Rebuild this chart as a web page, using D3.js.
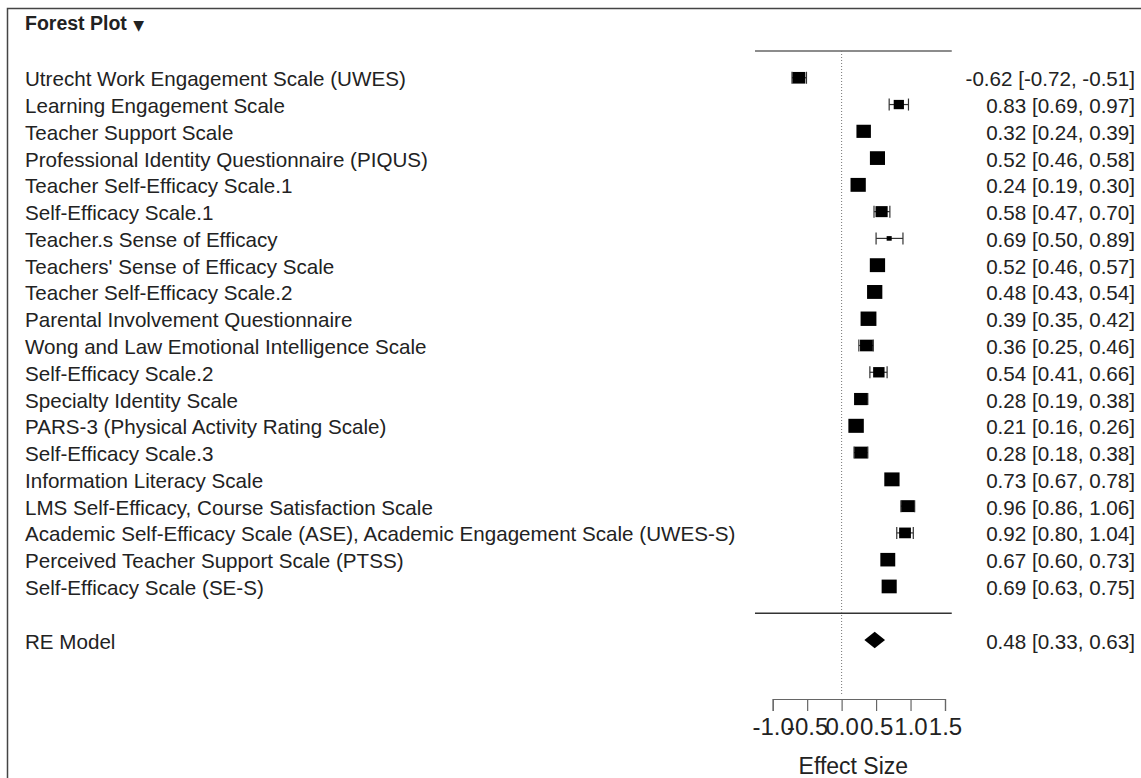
<!DOCTYPE html>
<html>
<head>
<meta charset="utf-8">
<script src="https://cdn.jsdelivr.net/npm/d3@7"></script>
<style>
  html, body { margin: 0; padding: 0; background: #fff; }
  svg { display: block; }
  text { font-family: "Liberation Sans", Arial, sans-serif; fill: #222; }
</style>
</head>
<body>
<svg id="chart" width="1141" height="778"></svg>
<script>
// ---------------- data ----------------
const studies = [
  "Utrecht Work Engagement Scale (UWES)",
  "Learning Engagement Scale",
  "Teacher Support Scale",
  "Professional Identity Questionnaire (PIQUS)",
  "Teacher Self-Efficacy Scale.1",
  "Self-Efficacy Scale.1",
  "Teacher.s Sense of Efficacy",
  "Teachers' Sense of Efficacy Scale",
  "Teacher Self-Efficacy Scale.2",
  "Parental Involvement Questionnaire",
  "Wong and Law Emotional Intelligence Scale",
  "Self-Efficacy Scale.2",
  "Specialty Identity Scale",
  "PARS-3 (Physical Activity Rating Scale)",
  "Self-Efficacy Scale.3",
  "Information Literacy Scale",
  "LMS Self-Efficacy, Course Satisfaction Scale",
  "Academic Self-Efficacy Scale (ASE), Academic Engagement Scale (UWES-S)",
  "Perceived Teacher Support Scale (PTSS)",
  "Self-Efficacy Scale (SE-S)"
];
const estimates = [-0.62, 0.83, 0.32, 0.52, 0.24, 0.58, 0.69, 0.52, 0.48, 0.39, 0.36, 0.54, 0.28, 0.21, 0.28, 0.73, 0.96, 0.92, 0.67, 0.69];
const lowers    = [-0.72, 0.69, 0.24, 0.46, 0.19, 0.47, 0.50, 0.46, 0.43, 0.35, 0.25, 0.41, 0.19, 0.16, 0.18, 0.67, 0.86, 0.80, 0.60, 0.63];
const uppers    = [-0.51, 0.97, 0.39, 0.58, 0.30, 0.70, 0.89, 0.57, 0.54, 0.42, 0.46, 0.66, 0.38, 0.26, 0.38, 0.78, 1.06, 1.04, 0.73, 0.75];
const tau2 = 0.114;                       // between-study variance of the RE model
const modelLabel = "RE Model";
const modelEstimate = 0.48, modelLower = 0.33, modelUpper = 0.63;
const xTicks = [-1.0, -0.5, 0.0, 0.5, 1.0, 1.5];
const titleText = "Forest Plot";
const xAxisTitle = "Effect Size";

// ---------------- layout ----------------
const svg = d3.select("#chart");
const f2 = v => d3.format(".2f")(v).replace("\u2212", "-");
const f1 = v => d3.format(".1f")(v).replace("\u2212", "-");
const ciText = (e, l, u) => `${f2(e)} [${f2(l)}, ${f2(u)}]`;

// x: effect size -> px ; y: row index -> px  (row -1 = top rule, 20 = separator, 21 = model)
const x = d3.scaleLinear().domain([-1, 1.5]).range([772.7, 945]);
const y = d3.scaleLinear().domain([-1, 21]).range([51, 640]);
const plotLeft = x(-1.257), plotRight = x(1.598);
const labelSize = "20.6px";

// frame
svg.append("rect").attr("x", 7.5).attr("y", 8.5).attr("width", 1200).attr("height", 800)
  .attr("fill", "none").attr("stroke", "#444").attr("stroke-width", 1.5);

// title
const t = svg.append("text").attr("x", 25).attr("y", 30)
  .style("font-weight", "bold").style("font-size", "19.5px").text(titleText + " ");
t.append("tspan").style("font-family", "DejaVu Sans").style("font-size", "14px").attr("dx", 1).text("▼");

// rules
svg.append("line").attr("x1", plotLeft).attr("x2", plotRight).attr("y1", y(-1)).attr("y2", y(-1))
  .attr("stroke", "#666").attr("stroke-width", 1.4);
svg.append("line").attr("x1", plotLeft).attr("x2", plotRight).attr("y1", y(20)).attr("y2", y(20))
  .attr("stroke", "#333").attr("stroke-width", 1.4);

// reference line at 0
svg.append("line").attr("x1", x(0)).attr("x2", x(0)).attr("y1", y(-1)).attr("y2", 695)
  .attr("stroke", "#777").attr("stroke-width", 1).attr("stroke-dasharray", "1,2");

// weights -> box size
const rows = studies.map((s, i) => {
  const se = (uppers[i] - lowers[i]) / (2 * 1.96);
  return { name: s, est: estimates[i], lo: lowers[i], hi: uppers[i], w: 1 / (se * se + tau2), i };
});
const size = d3.scaleLinear().domain(d3.extent(rows, d => d.w)).range([4.6, 14.4]);

const g = svg.append("g");
const capH = 6;
rows.forEach(d => {
  const cy = y(d.i);
  g.append("line").attr("x1", x(d.lo)).attr("x2", x(d.hi)).attr("y1", cy).attr("y2", cy)
    .attr("stroke", "#333").attr("stroke-width", 1.2);
  [d.lo, d.hi].forEach(v => g.append("line").attr("x1", x(v)).attr("x2", x(v))
    .attr("y1", cy - capH).attr("y2", cy + capH).attr("stroke", "#333").attr("stroke-width", 1.2));
  const h = size(d.w), w = h * 1.1;
  g.append("rect").attr("x", x(d.est) - w / 2).attr("y", cy - h / 2).attr("width", w).attr("height", h)
    .attr("fill", "#000");
});

// labels
svg.append("g").selectAll("text").data(rows).join("text")
  .attr("x", 25).attr("y", d => y(d.i) + 1).attr("dominant-baseline", "central")
  .style("font-size", labelSize).text(d => d.name);
svg.append("g").selectAll("text").data(rows).join("text")
  .attr("x", 1135).attr("y", d => y(d.i) + 1).attr("dominant-baseline", "central")
  .attr("text-anchor", "end").style("font-size", labelSize).text(d => ciText(d.est, d.lo, d.hi));

// model row
const my = y(21);
svg.append("path")
  .attr("d", `M${x(modelLower)},${my} L${x(modelEstimate)},${my - 8.3} L${x(modelUpper)},${my} L${x(modelEstimate)},${my + 8.3} Z`)
  .attr("fill", "#000");
svg.append("text").attr("x", 25).attr("y", my + 1).attr("dominant-baseline", "central")
  .style("font-size", labelSize).text(modelLabel);
svg.append("text").attr("x", 1135).attr("y", my + 1).attr("dominant-baseline", "central")
  .attr("text-anchor", "end").style("font-size", labelSize).text(ciText(modelEstimate, modelLower, modelUpper));

// x axis
const axis = d3.axisBottom(x).tickValues(xTicks).tickFormat(f1).tickSize(12).tickPadding(7);
const ax = svg.append("g").attr("transform", "translate(0,699)").call(axis);
ax.attr("font-size", null).attr("font-family", null);
ax.select(".domain").attr("stroke", "#666").attr("stroke-width", 1.2);
ax.selectAll(".tick line").attr("stroke", "#666").attr("stroke-width", 1.2);
ax.selectAll(".tick text").style("font-size", "24px").attr("fill", "#222");

svg.append("text").attr("x", (plotLeft + plotRight) / 2).attr("y", 774).attr("text-anchor", "middle")
  .style("font-size", "23px").text(xAxisTitle);
</script>
</body>
</html>
